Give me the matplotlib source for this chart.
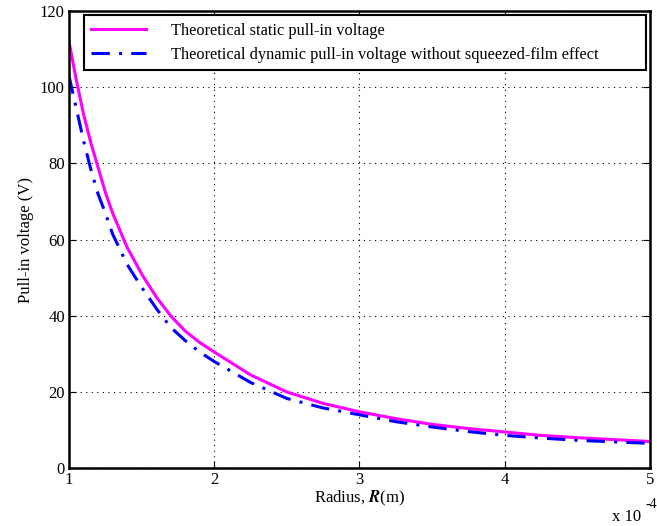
import matplotlib.pyplot as plt

plt.rcParams['font.family'] = ['Liberation Serif', 'DejaVu Serif']
plt.rcParams['mathtext.fontset'] = 'stix'

# radius in units of 1e-4 m
radius = [1.0, 1.05, 1.1, 1.15, 1.2, 1.25, 1.3, 1.35, 1.4, 1.5, 1.6, 1.7, 1.8, 1.9, 2.0,
          2.25, 2.5, 2.75, 3.0, 3.25, 3.5, 3.75, 4.0, 4.25, 4.5, 4.75, 5.0]
v_static = [112, 102, 93, 85.5, 79, 72.5, 67, 62.5, 58, 51, 45, 40, 36, 33, 30.5,
            24.5, 20, 17, 14.8, 13, 11.5, 10.4, 9.5, 8.6, 8.0, 7.5, 7.0]
v_dynamic = [103, 94.5, 86, 78.5, 72, 67, 61.5, 57.5, 53.5, 47.5, 42, 37, 33.5, 30.5, 28,
             22.5, 18.3, 15.8, 14.0, 12.2, 10.8, 9.6, 8.6, 7.9, 7.3, 6.9, 6.5]

fig = plt.figure(figsize=(6.57, 5.26), dpi=100)
ax = fig.add_axes([0.105, 0.110, 0.884, 0.869])

ax.plot(radius, v_static, color='#ff00ff', lw=2.2,
        label='Theoretical static pull-in voltage')
ax.plot(radius, v_dynamic, color='#0000ff', lw=2.2, linestyle=(0, (6, 3, 1, 3)),
        label='Theoretical dynamic pull-in voltage without squeezed-film effect')

ax.set_xlim(1, 5)
ax.set_ylim(0, 120)
ax.set_xticks([1, 2, 3, 4, 5])
ax.set_yticks(range(0, 121, 20))
ax.grid(True, color='black', linestyle=(0, (1, 4)), lw=0.8)
ax.tick_params(direction='in', top=True, right=True, labelsize=12, length=5, pad=3)
for s in ax.spines.values():
    s.set_linewidth(1.8)

ax.set_xlabel(r'Radius, $\boldsymbol{R}$(m)', fontsize=12, labelpad=0)
ax.set_ylabel('Pull-in voltage (V)', fontsize=12, labelpad=4)
fig.text(0.931, 0.017, 'x 10', fontsize=12, va='center')
fig.text(0.982, 0.040, '-4', fontsize=10, va='center')

leg = ax.legend(loc='upper left', bbox_to_anchor=(0.026, 0.0, 0.967, 0.991), mode='expand',
                fontsize=11.8, handlelength=3.35, handletextpad=1.5, borderpad=0.45,
                labelspacing=0.5, fancybox=False, framealpha=1, edgecolor='black',
                borderaxespad=0)
leg.get_frame().set_linewidth(1.5)

fig.savefig('out.png', dpi=100)
